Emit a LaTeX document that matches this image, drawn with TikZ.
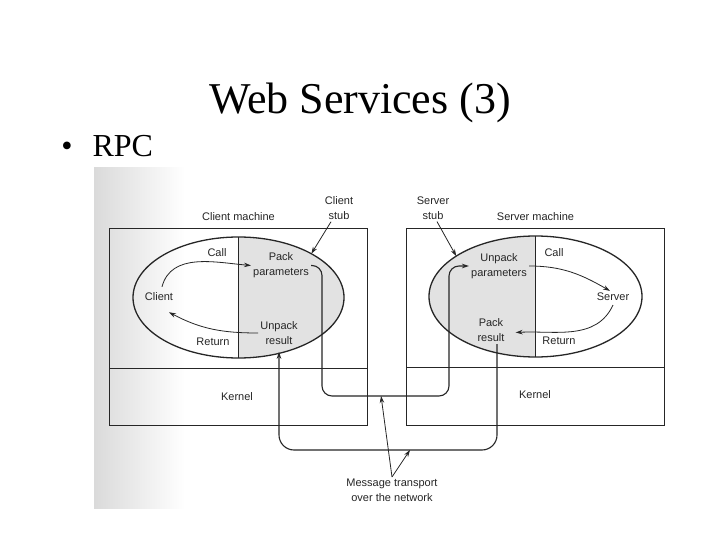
\documentclass[tikz,border=0pt]{standalone}
\usepackage{fontspec}
\setmainfont{Liberation Serif}
\setsansfont{Liberation Sans}
\usetikzlibrary{arrows.meta,positioning,calc,shapes.geometric}
\definecolor{inkgray}{RGB}{38,38,38}
\definecolor{stubgray}{RGB}{226,226,226}
\definecolor{scanedge}{RGB}{218,218,218}
\newcommand{\lblfont}{\sffamily\fontsize{11}{15}\selectfont}
\tikzset{
  lbl/.style={font=\lblfont, text=inkgray, align=center, inner sep=2pt},
  mach/.style={draw=inkgray, line width=1.1pt, minimum width=258pt, minimum height=197pt,
               inner sep=0pt, outer sep=0pt},
  proc/.style={ellipse, draw=inkgray, line width=1.3pt, minimum width=211pt, minimum height=121pt,
               inner sep=0pt, outer sep=0pt},
  ptr/.style={-{Stealth[length=7pt,width=4.5pt]}, inkgray, line width=0.8pt},
  msg/.style={-{Stealth[length=7pt,width=4.5pt]}, inkgray, line width=1.1pt, rounded corners=10pt},
  divl/.style={inkgray, line width=0.9pt},
}

\begin{document}
\begin{tikzpicture}[x=1pt, y=1pt]
        \fill[white] (0,0) rectangle (720,-540);
        \shade[left color=scanedge, right color=white] (94,-168) rectangle (185,-508);
        \node[anchor=base, font=\fontsize{44}{50}\selectfont] (title) at (360,-114) {Web Services (3)};
        \node[anchor=base, font=\fontsize{32}{38}\selectfont] (bul) at (67,-157) {\textbullet};
        \node[anchor=base west, font=\fontsize{32}{38}\selectfont] (rpc) at (89,-157) {RPC};
        % machines
        \node[mach] (cmach) at (238.5,-327) {};
        \node[mach] (smach) at (535.5,-327) {};
        \draw[divl] (cmach.west |- 0,-368) -- (cmach.east |- 0,-368);
        \draw[divl] (smach.west |- 0,-367) -- (smach.east |- 0,-367);
        \node[lbl, above=6pt of cmach.north] (cmachl) {Client machine};
        \node[lbl, above=6pt of smach.north] (smachl) {Server machine};
        \node[lbl] (ckern) at (237,-397) {Kernel};
        \node[lbl] (skern) at (535,-395) {Kernel};
        % processes with stubs
        \node[proc, path picture={\fill[stubgray] (path picture bounding box.north)
              rectangle (path picture bounding box.south east);}] (cell) at (238.5,-297.5) {};
        \node[proc, minimum width=213pt, path picture={\fill[stubgray] (path picture bounding box.north)
              rectangle (path picture bounding box.south west);}] (sell) at (535.5,-296.5) {};
        \draw[divl] (cell.north) -- (cell.south);
        \draw[divl] (sell.north) -- (sell.south);
        \node[lbl] (client) at (159,-297) {Client};
        \node[lbl] (ccall) at (217,-253) {Call};
        \node[lbl] (cpack) at (281,-265.5) {Pack\\parameters};
        \node[lbl] (cunpack) at (279,-333) {Unpack\\result};
        \node[lbl] (cret) at (213,-342) {Return};
        \node[lbl] (sunpack) at (499,-266) {Unpack\\parameters};
        \node[lbl] (scall) at (554,-253) {Call};
        \node[lbl] (server) at (613,-297) {Server};
        \node[lbl] (spack) at (491,-330.5) {Pack\\result};
        \node[lbl] (sret) at (559,-341) {Return};
        \draw[ptr] ([xshift=3pt,yshift=4pt]client.north) to[out=75,in=175] (cpack.west);
        \draw[ptr] (cunpack.west) to[out=180,in=-28] ([shift={(10pt,-9pt)}]client.south);
        \draw[ptr] (sunpack.east) to[out=0,in=150] ([xshift=-3pt]server.north);
        \draw[ptr] ([yshift=-2pt]server.south) to[out=-115,in=3] ([xshift=9pt,yshift=-2pt]spack.east);
        \node[lbl] (cstub) at (339,-208) {Client\\stub};
        \node[lbl] (sstub) at (433,-208) {Server\\stub};
        \draw[ptr] ([xshift=-8pt]cstub.south) -- (cell.31);
        \draw[ptr] ([xshift=4pt]sstub.south) -- (sell.153);
        % message transport
        \coordinate (inbotL) at (322,-396);
        \coordinate (inbotR) at (449,-396);
        \coordinate (outbotL) at (279,-450);
        \coordinate (outbotR) at (497,-450);
        \draw[msg] (cpack.east) -| (inbotL) -- (inbotR) |- (sunpack.west);
        \draw[msg, rounded corners=15pt, shorten >=5pt] ([xshift=6pt]spack.south) -- (outbotR) -- (outbotL) -- (cunpack.south);
        \node[lbl] (msgl) at (392,-490.5) {Message transport\\over the network};
        \draw[ptr] (msgl.north) -- ($(inbotL)!0.465!(inbotR)$);
        \draw[ptr] (msgl.north) -- ($(outbotL)!0.601!(outbotR)$);
      \end{tikzpicture}
\end{document}
